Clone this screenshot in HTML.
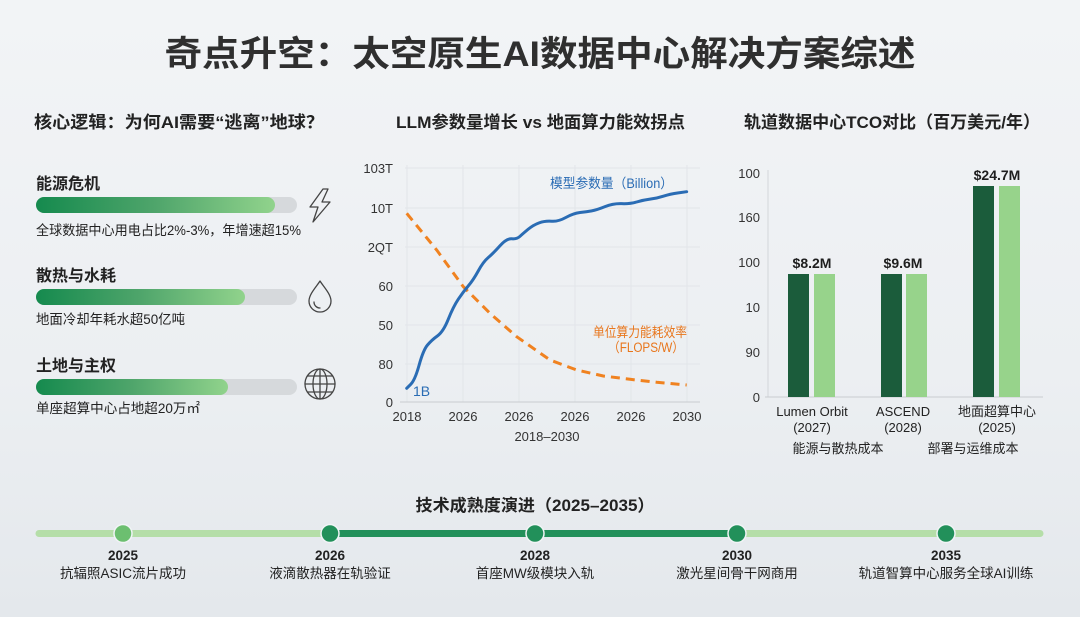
<!DOCTYPE html>
<html><head><meta charset="utf-8">
<style>
html,body{margin:0;padding:0;width:1080px;height:617px;overflow:hidden;}
body{background:linear-gradient(180deg,#f2f4f6 0%,#eceff2 60%,#e4e8ec 100%);}
svg{display:block;font-family:"Liberation Sans","Noto Sans CJK SC",sans-serif;}
</style></head>
<body>
<svg width="1080" height="617" viewBox="0 0 1080 617" xmlns="http://www.w3.org/2000/svg">
<defs>
<linearGradient id="gbar" x1="0" x2="1" y1="0" y2="0">
<stop offset="0" stop-color="#158a4e"/><stop offset="0.5" stop-color="#4fa56b"/><stop offset="1" stop-color="#91d38c"/>
</linearGradient>
</defs>

<!-- Title -->
<text x="540" y="66" text-anchor="middle" font-size="35" font-weight="bold" fill="#2f2f2f" textLength="751" lengthAdjust="spacingAndGlyphs">奇点升空：太空原生AI数据中心解决方案综述</text>

<!-- Section headings -->
<text x="34" y="128" font-size="17" font-weight="bold" fill="#222" textLength="290" lengthAdjust="spacingAndGlyphs">核心逻辑：为何AI需要“逃离”地球？</text>
<text x="396" y="128" font-size="17" font-weight="bold" fill="#222" textLength="289" lengthAdjust="spacingAndGlyphs">LLM参数量增长 vs 地面算力能效拐点</text>
<text x="744" y="128" font-size="17" font-weight="bold" fill="#222" textLength="296" lengthAdjust="spacingAndGlyphs">轨道数据中心TCO对比（百万美元/年）</text>

<!-- Left panel -->
<g fill="#222">
<text x="36" y="189" font-size="16" font-weight="bold">能源危机</text>
<rect x="36" y="197" width="261" height="16" rx="8" fill="#d6d9dc"/>
<rect x="36" y="197" width="239" height="16" rx="8" fill="url(#gbar)"/>
<text x="36" y="235" font-size="13.5" textLength="265" lengthAdjust="spacingAndGlyphs">全球数据中心用电占比2%-3%，年增速超15%</text>

<text x="36" y="281" font-size="16" font-weight="bold">散热与水耗</text>
<rect x="36" y="289" width="261" height="16" rx="8" fill="#d6d9dc"/>
<rect x="36" y="289" width="209" height="16" rx="8" fill="url(#gbar)"/>
<text x="36" y="324" font-size="13.5" textLength="149" lengthAdjust="spacingAndGlyphs">地面冷却年耗水超50亿吨</text>

<text x="36" y="371" font-size="16" font-weight="bold">土地与主权</text>
<rect x="36" y="379" width="261" height="16" rx="8" fill="#d6d9dc"/>
<rect x="36" y="379" width="192" height="16" rx="8" fill="url(#gbar)"/>
<text x="36" y="413" font-size="13.5" textLength="164" lengthAdjust="spacingAndGlyphs">单座超算中心占地超20万㎡</text>
</g>

<!-- Icons -->
<g fill="none" stroke="#444" stroke-width="1.3" stroke-linejoin="round" stroke-linecap="round">
<path d="M323,189 L310,207 L318,207 L313,222 L330,202 L322,202 L328,189 Z"/>
<path d="M320,281 C317,286 309,294 309,301 A11,11 0 0 0 331,301 C331,294 323,286 320,281 Z"/>
<path d="M314,302 A6,6 0 0 0 320,308"/>
<circle cx="320" cy="384" r="15"/>
<ellipse cx="320" cy="384" rx="7" ry="15"/>
<line x1="320" y1="369" x2="320" y2="399"/>
<line x1="305" y1="384" x2="335" y2="384"/>
<line x1="307.5" y1="376" x2="332.5" y2="376"/>
<line x1="307.5" y1="392" x2="332.5" y2="392"/>
</g>

<!-- Line chart -->
<g stroke="#e2e5e9" stroke-width="1">
<line x1="405" y1="168" x2="700" y2="168"/>
<line x1="405" y1="208" x2="700" y2="208"/>
<line x1="405" y1="247" x2="700" y2="247"/>
<line x1="405" y1="286" x2="700" y2="286"/>
<line x1="405" y1="325" x2="700" y2="325"/>
<line x1="405" y1="364" x2="700" y2="364"/>
<line x1="407" y1="165" x2="407" y2="402"/>
<line x1="463" y1="165" x2="463" y2="402"/>
<line x1="519" y1="165" x2="519" y2="402"/>
<line x1="575" y1="165" x2="575" y2="402"/>
<line x1="631" y1="165" x2="631" y2="402"/>
<line x1="687" y1="165" x2="687" y2="402"/>
</g>
<line x1="400" y1="402" x2="700" y2="402" stroke="#c9ccd0" stroke-width="1"/>
<g font-size="13" fill="#333" text-anchor="end">
<text x="393" y="173">103T</text>
<text x="393" y="213">10T</text>
<text x="393" y="252">2QT</text>
<text x="393" y="291">60</text>
<text x="393" y="330">50</text>
<text x="393" y="369">80</text>
<text x="393" y="407">0</text>
</g>
<g font-size="13" fill="#333" text-anchor="middle">
<text x="407" y="421">2018</text>
<text x="463" y="421">2026</text>
<text x="519" y="421">2026</text>
<text x="575" y="421">2026</text>
<text x="631" y="421">2026</text>
<text x="687" y="421">2030</text>
<text x="547" y="441">2018–2030</text>
</g>
<polyline fill="none" stroke="#f08220" stroke-width="3" stroke-dasharray="9 6" stroke-linecap="butt" points="406.7,213.3 436.7,250 463.3,286.7 490,313.3 516.7,336.7 550,360 576.7,370 603.3,376 630,379.3 656.7,382.3 686.7,385"/>
<path fill="none" stroke="#2a6cb4" stroke-width="3" stroke-linejoin="round" stroke-linecap="round" d="M406.7,388.3 L410.85,384.15 Q415,380 419.15,365 Q423.3,350 427.5,345 Q431.7,340 437.5,335.85 Q443.3,331.7 448.3,319.2 Q453.3,306.7 458.3,299.2 Q463.3,291.7 468.3,285.85 Q473.3,280 478.3,270.85 Q483.3,261.7 488.3,257.5 Q493.3,253.3 500,245.8 Q506.7,238.3 511.7,238.8 Q516.7,239.3 520,236.3 Q523.3,233.3 528.3,229.15 Q533.3,225 539.15,222.85 Q545,220.7 551.65,221.2 Q558.3,221.7 565.8,217.5 Q573.3,213.3 580,212.5 Q586.7,211.7 591.7,210.85 Q596.7,210 605,206.65 Q613.3,203.3 621.65,203.65 Q630,204 636.65,202 Q643.3,200 650,199.15 Q656.7,198.3 663.35,196.15 Q670,194 678.35,192.85 L686.7,191.7"/>
<text x="550" y="188" font-size="13.5" fill="#2a6cb4" textLength="123" lengthAdjust="spacingAndGlyphs">模型参数量（Billion）</text>
<text x="413" y="396" font-size="14" fill="#2a6cb4">1B</text>
<text x="593" y="337" font-size="13.5" fill="#e8761c" textLength="94" lengthAdjust="spacingAndGlyphs">单位算力能耗效率</text>
<text x="608" y="352" font-size="13.5" fill="#e8761c" textLength="76" lengthAdjust="spacingAndGlyphs">（FLOPS/W）</text>

<!-- Bar chart -->
<line x1="768" y1="170" x2="768" y2="397" stroke="#d3d6da" stroke-width="1"/>
<line x1="765" y1="397" x2="1043" y2="397" stroke="#c9ccd0" stroke-width="1"/>
<g font-size="13" fill="#333" text-anchor="end">
<text x="760" y="178">100</text>
<text x="760" y="222">160</text>
<text x="760" y="267">100</text>
<text x="760" y="312">10</text>
<text x="760" y="357">90</text>
<text x="760" y="402">0</text>
</g>
<rect x="788" y="274" width="21" height="123" fill="#1b5c3b"/>
<rect x="814" y="274" width="21" height="123" fill="#97d38b"/>
<rect x="881" y="274" width="21" height="123" fill="#1b5c3b"/>
<rect x="906" y="274" width="21" height="123" fill="#97d38b"/>
<rect x="973" y="186" width="21" height="211" fill="#1b5c3b"/>
<rect x="999" y="186" width="21" height="211" fill="#97d38b"/>
<g font-size="14" font-weight="bold" fill="#1e1e1e" text-anchor="middle">
<text x="812" y="268">$8.2M</text>
<text x="903" y="268">$9.6M</text>
<text x="997" y="180">$24.7M</text>
</g>
<g font-size="13" fill="#222" text-anchor="middle">
<text x="812" y="416">Lumen Orbit</text>
<text x="812" y="432">(2027)</text>
<text x="903" y="416">ASCEND</text>
<text x="903" y="432">(2028)</text>
<text x="997" y="416">地面超算中心</text>
<text x="997" y="432">(2025)</text>
<text x="838" y="453">能源与散热成本</text>
<text x="973" y="453">部署与运维成本</text>
</g>

<!-- Timeline -->
<text x="535" y="511" text-anchor="middle" font-size="16.5" font-weight="bold" fill="#222" textLength="239" lengthAdjust="spacingAndGlyphs">技术成熟度演进（2025–2035）</text>
<line x1="39" y1="533.5" x2="330" y2="533.5" stroke="#b5dea8" stroke-width="7" stroke-linecap="round"/>
<line x1="330" y1="533.5" x2="737" y2="533.5" stroke="#22905a" stroke-width="7"/>
<line x1="737" y1="533.5" x2="1040" y2="533.5" stroke="#b5dea8" stroke-width="7" stroke-linecap="round"/>
<g stroke="#f1f4f6" stroke-width="1.5">
<circle cx="123" cy="533.5" r="9" fill="#6cbf70"/>
<circle cx="330" cy="533.5" r="9" fill="#22905a"/>
<circle cx="535" cy="533.5" r="9" fill="#22905a"/>
<circle cx="737" cy="533.5" r="9" fill="#22905a"/>
<circle cx="946" cy="533.5" r="9" fill="#22905a"/>
</g>
<g font-size="13.5" font-weight="bold" fill="#222" text-anchor="middle">
<text x="123" y="560">2025</text>
<text x="330" y="560">2026</text>
<text x="535" y="560">2028</text>
<text x="737" y="560">2030</text>
<text x="946" y="560">2035</text>
</g>
<g font-size="13.5" fill="#222" text-anchor="middle">
<text x="123" y="578">抗辐照ASIC流片成功</text>
<text x="330" y="578">液滴散热器在轨验证</text>
<text x="535" y="578">首座MW级模块入轨</text>
<text x="737" y="578">激光星间骨干网商用</text>
<text x="946" y="578">轨道智算中心服务全球AI训练</text>
</g>
</svg>
</body></html>
